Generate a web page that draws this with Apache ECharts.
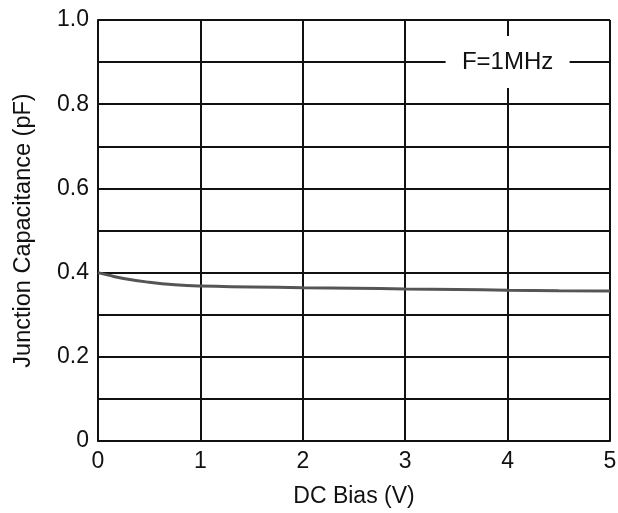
<!DOCTYPE html>
<html><head><meta charset="utf-8">
<script src="https://cdn.jsdelivr.net/npm/echarts@6/dist/echarts.min.js"></script>
<style>html,body{margin:0;padding:0;background:#fff}#c{width:618px;height:513px}</style>
</head><body><div id="c"></div>
<script>
const biasV = [0, 0.1, 0.25, 0.5, 0.75, 1, 1.5, 2, 2.5, 3, 3.5, 4, 4.5, 5];
const capPF = [0.400, 0.394, 0.386, 0.377, 0.371, 0.368, 0.366, 0.364, 0.363, 0.361, 0.360, 0.358, 0.357, 0.356];
const annotation = { x: 4, y: 0.9, text: 'F=1MHz' };
const xTitle = 'DC Bias (V)';
const yTitle = 'Junction Capacitance (pF)';
const font = 'Liberation Sans, Arial, sans-serif';

const chart = echarts.init(document.getElementById('c'));
chart.setOption({
  animation: false,
  grid: { left: 98, right: 8, top: 20, bottom: 72, containLabel: false, outerBoundsMode: 'none' },
  xAxis: {
    type: 'value', min: 0, max: 5, interval: 1,
    name: xTitle, nameLocation: 'middle', nameGap: 44,
    nameTextStyle: { fontFamily: font, fontSize: 23, color: '#111' },
    axisLine: { show: true, lineStyle: { color: '#111', width: 2 } },
    axisTick: { show: false },
    axisLabel: { fontFamily: font, fontSize: 23, color: '#111', margin: 9 },
    splitLine: { show: true, lineStyle: { color: '#111', width: 2 } }
  },
  yAxis: {
    type: 'value', min: 0, max: 1, interval: 0.1,
    name: yTitle, nameLocation: 'middle', nameGap: 62,
    nameTextStyle: { fontFamily: font, fontSize: 23.5, color: '#111' },
    axisLine: { show: true, lineStyle: { color: '#111', width: 2 } },
    axisTick: { show: false },
    axisLabel: {
      fontFamily: font, fontSize: 23, color: '#111', margin: 9,
      formatter: function (v) {
        const k = Math.round(v * 10);
        if (k % 2 !== 0) return '';
        return k === 0 ? '0' : (k / 10).toFixed(1);
      }
    },
    splitLine: { show: true, lineStyle: { color: '#111', width: 2 } }
  },
  series: [{
    type: 'line', smooth: true, showSymbol: false,
    data: biasV.map((x, i) => [x, capPF[i]]),
    lineStyle: { color: '#555', width: 3 },
    markPoint: {
      silent: true,
      data: [{ coord: [annotation.x, annotation.y] }],
      symbol: 'rect', symbolSize: [124, 52],
      itemStyle: { color: '#fff' },
      label: { show: true, position: 'inside', formatter: annotation.text,
               fontFamily: font, fontSize: 24, color: '#111' }
    }
  }]
});
</script></body></html>
